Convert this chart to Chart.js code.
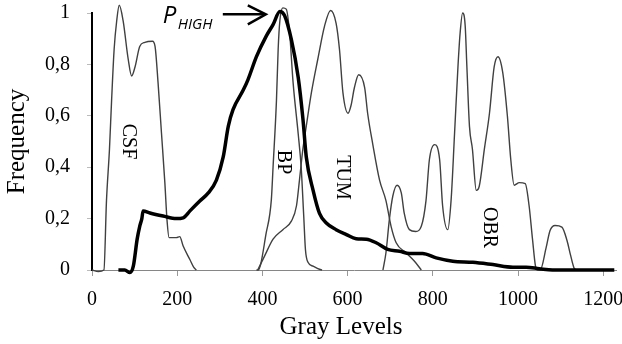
<!DOCTYPE html>
<html>
<head>
<meta charset="utf-8"/>
<style>
  html,body{margin:0;padding:0;background:#fff;}
  .wrap{width:622px;height:344px;}
</style>
</head>
<body>
<div class="wrap"><canvas id="c" width="622" height="344"></canvas></div>
<script src="https://cdn.jsdelivr.net/npm/chart.js@4.4.0/dist/chart.umd.min.js"></script>
<script>
  // gray level histograms
  const csfX = [0, 15, 28, 34, 41, 46, 52, 58, 64, 73, 85, 93, 101, 112, 124, 142, 148, 155, 163, 171, 176, 181, 198, 206, 214, 230, 239, 245];
  const csfY = [0, -0.006, 0, 0.27, 0.47, 0.66, 0.86, 0.97, 1.03, 0.97, 0.82, 0.755, 0.79, 0.87, 0.886, 0.89, 0.87, 0.73, 0.535, 0.34, 0.196, 0.126, 0.126, 0.13, 0.093, 0.04, 0.01, 0];

  const bpX = [386, 390, 409, 421, 425, 433, 437, 441, 448, 456, 464, 472, 484, 491, 497, 501, 507, 519, 534, 540];
  const bpY = [0, 0, 0.145, 0.274, 0.40, 0.66, 0.86, 0.97, 1.02, 1.015, 0.92, 0.73, 0.53, 0.40, 0.21, 0.08, 0.03, 0.015, 0.003, 0];

  const tumX = [389, 405, 425, 448, 468, 480, 487, 495, 503, 515, 530, 546, 560, 573, 581, 589, 601, 608, 616, 626, 640, 647, 659, 675, 690, 702, 714, 737, 757, 773];
  const tumY = [0, 0.054, 0.12, 0.157, 0.19, 0.25, 0.35, 0.47, 0.56, 0.69, 0.82, 0.95, 1.01, 0.96, 0.857, 0.69, 0.61, 0.64, 0.71, 0.76, 0.71, 0.61, 0.49, 0.35, 0.27, 0.17, 0.106, 0.067, 0.034, 0];

  const obrX = [683, 690, 698, 706, 716, 726, 733, 745, 760, 773, 784, 792, 804, 816, 823, 835, 843, 851, 859, 864, 870, 876, 880, 886, 893, 902, 909, 921, 933, 944, 953, 964, 975, 983, 991, 1003, 1017, 1026, 1034, 1041, 1046, 1052, 1066, 1075, 1087, 1103, 1115, 1123, 1131, 1136];
  const obrY = [0, 0.067, 0.196, 0.287, 0.33, 0.30, 0.22, 0.157, 0.15, 0.17, 0.27, 0.43, 0.488, 0.43, 0.25, 0.157, 0.274, 0.53, 0.79, 0.92, 1.0, 0.95, 0.79, 0.56, 0.47, 0.31, 0.326, 0.47, 0.61, 0.79, 0.83, 0.77, 0.60, 0.43, 0.33, 0.34, 0.336, 0.25, 0.12, 0.015, 0, 0, 0.087, 0.153, 0.173, 0.167, 0.115, 0.06, 0.01, 0];

  const allX = [62, 77, 89, 97, 106, 112, 117, 120, 136, 167, 198, 214, 230, 253, 273, 292, 308, 320, 331, 355, 366, 386, 409, 425, 441, 452, 468, 484, 495, 503, 519, 534, 550, 573, 597, 620, 644, 667, 694, 722, 745, 776, 808, 847, 894, 941, 988, 1019, 1050, 1081, 1226];
  const allY = [0, 0, -0.01, 0.015, 0.12, 0.17, 0.2, 0.23, 0.222, 0.21, 0.2, 0.203, 0.23, 0.268, 0.30, 0.35, 0.44, 0.56, 0.624, 0.70, 0.74, 0.83, 0.91, 0.955, 1.006, 0.99, 0.896, 0.75, 0.59, 0.44, 0.31, 0.22, 0.183, 0.157, 0.138, 0.122, 0.12, 0.106, 0.08, 0.073, 0.064, 0.064, 0.047, 0.034, 0.03, 0.021, 0.011, 0.011, 0.005, 0, 0];

  const xTicks = [0, 200, 400, 600, 800, 1000, 1200];
  const yTicks = [0, 0.2, 0.4, 0.6, 0.8, 1];

  const regionNames = ["CSF", "BP", "TUM", "OBR"];
  const regionAt = [[84, 0.5], [448, 0.42], [588, 0.36], [932, 0.165]];
  const peakTip = [408, 0.995];

  const SERIF = "'Liberation Serif', 'Times New Roman', serif";
  const pts = (xs, ys) => xs.map((v, i) => ({ x: v, y: ys[i] }));

  const thin = (label, xs, ys) => ({
    label, data: pts(xs, ys),
    borderColor: "#404040", borderWidth: 1.4,
    pointRadius: 0, cubicInterpolationMode: "monotone", clip: false, order: 2
  });

  const annotate = {
    id: "annotate",
    afterDatasetsDraw(chart) {
      const { ctx, scales: { x, y } } = chart;
      ctx.save();
      ctx.fillStyle = "#000";
      ctx.font = "20px " + SERIF;
      ctx.textAlign = "center";
      ctx.textBaseline = "middle";
      regionNames.forEach((t, i) => {
        ctx.save();
        ctx.translate(x.getPixelForValue(regionAt[i][0]), y.getPixelForValue(regionAt[i][1]));
        ctx.rotate(Math.PI / 2);
        ctx.fillText(t, 0, 0);
        ctx.restore();
      });

      // axis title, Excel puts it a bit left of the plot centre
      ctx.font = "25px " + SERIF;
      ctx.fillText("Gray Levels", 341, 327);

      const tx = x.getPixelForValue(peakTip[0]), ty = y.getPixelForValue(peakTip[1]);
      ctx.strokeStyle = "#000";
      ctx.lineWidth = 2.5;
      ctx.beginPath(); ctx.moveTo(tx - 43, ty); ctx.lineTo(tx - 1, ty); ctx.stroke();
      ctx.beginPath(); ctx.moveTo(tx - 18, ty - 9); ctx.lineTo(tx, ty); ctx.lineTo(tx - 18, ty + 10); ctx.stroke();
      ctx.textAlign = "left";
      ctx.textBaseline = "alphabetic";
      ctx.font = "italic 24px 'Open Sans'";
      ctx.fillText("P", tx - 103, ty + 9);
      ctx.font = "italic 15px 'Open Sans'";
      ctx.fillText("HIGH", tx - 88, ty + 15);
      ctx.restore();
    }
  };

  new Chart(document.getElementById("c"), {
    type: "line",
    data: {
      datasets: [
        { label: "All", data: pts(allX, allY), borderColor: "#000", borderWidth: 3.5,
          pointRadius: 0, cubicInterpolationMode: "monotone", clip: false, order: 1 },
        thin("CSF", csfX, csfY),
        thin("BP", bpX, bpY),
        thin("TUM", tumX, tumY),
        thin("OBR", obrX, obrY)
      ]
    },
    options: {
      responsive: false, animation: false, devicePixelRatio: 1,
      layout: { padding: { top: 13, right: 6, left: 0, bottom: 0 } },
      plugins: { legend: { display: false }, tooltip: { enabled: false } },
      scales: {
        x: {
          type: "linear", min: 0, max: 1230,
          border: { color: "#868686", width: 1 },
          grid: { drawOnChartArea: false, tickLength: 6, color: "#999" },
          ticks: { maxRotation: 0, padding: 12, autoSkip: false,
                   color: "#000", font: { family: SERIF, size: 20 }, callback: v => String(v) },
          afterBuildTicks: s => { s.ticks = xTicks.map(v => ({ value: v })); },
          afterFit: s => { s.height = 74; s.paddingLeft = 0; s.paddingRight = 0; }
        },
        y: {
          min: 0, max: 1,
          border: { color: "#000", width: 2 },
          grid: { drawOnChartArea: false, tickLength: 5, color: "#bbb" },
          ticks: { padding: 17, color: "#000", font: { family: SERIF, size: 20 },
                   callback: v => String(Math.round(v * 10) / 10).replace(".", ",") },
          afterBuildTicks: s => { s.ticks = yTicks.map(v => ({ value: v })); },
          title: { display: true, text: "Frequency", color: "#000", font: { family: SERIF, size: 25 }, padding: { top: 2, bottom: 0 } },
          afterFit: s => { s.width = 92; s.paddingTop = 0; s.paddingBottom = 0; }
        }
      }
    },
    plugins: [annotate]
  });
</script>
</body>
</html>
